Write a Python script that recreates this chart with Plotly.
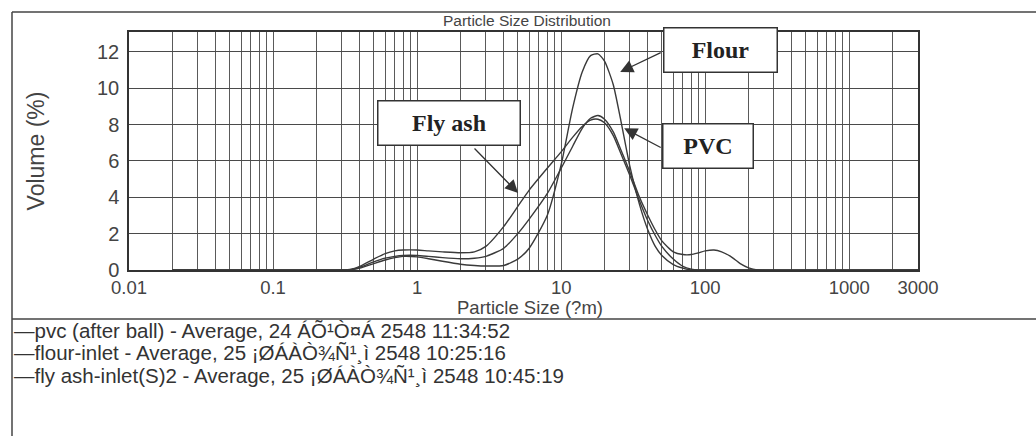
import math
import plotly.graph_objects as go

# Particle sizes (µm) at which the volume fractions are sampled
size_um = [0.02, 0.3, 0.35, 0.4, 0.5, 0.6, 0.7, 0.8, 1.0, 1.2, 1.5, 2.0, 2.5, 3.0,
           4.0, 5.0, 6.0, 8.0, 10, 12, 14, 16, 18, 20, 23, 26, 30, 35, 40, 45, 50,
           60, 70, 80, 90, 100, 115, 130, 150, 175, 200, 230, 3000]

# Volume (%) for each sample
pvc = [0, 0, 0.03, 0.15, 0.45, 0.65, 0.75, 0.8, 0.8, 0.75, 0.68, 0.62, 0.65, 0.75,
       1.2, 2.0, 2.8, 4.2, 5.6, 6.8, 7.8, 8.35, 8.5, 8.3, 7.6, 6.6, 5.4, 4.0, 3.0, 2.2, 1.6,
       1.0, 0.85, 0.85, 0.95, 1.05, 1.1, 1.0, 0.75, 0.35, 0.12, 0, 0]
flour = [0, 0, 0.02, 0.1, 0.35, 0.55, 0.68, 0.75, 0.72, 0.62, 0.48, 0.32, 0.25, 0.22,
         0.25, 0.6, 1.2, 3.0, 5.8, 8.9, 10.9, 11.8, 11.9, 11.5, 10.2, 8.2, 5.7, 3.6, 2.2, 1.3, 0.8,
         0.3, 0.1, 0, 0, 0, 0, 0, 0, 0, 0, 0, 0]
fly_ash = [0, 0, 0.05, 0.2, 0.6, 0.9, 1.05, 1.1, 1.1, 1.05, 1.0, 0.95, 1.0, 1.3,
           2.4, 3.5, 4.4, 5.6, 6.5, 7.3, 7.9, 8.25, 8.3, 8.1, 7.4, 6.4, 5.2, 3.8, 2.7, 1.9, 1.3,
           0.6, 0.2, 0.05, 0, 0, 0, 0, 0, 0, 0, 0, 0]

series_names = ["pvc (after ball)", "flour-inlet", "fly ash-inlet(S)2"]
legend_lines = [
    "pvc (after ball) - Average, 24 ÁÕ¹Ò¤Á 2548 11:34:52",
    "flour-inlet - Average, 25 ¡ØÁÀÒ¾Ñ¹¸ì 2548 10:25:16",
    "fly ash-inlet(S)2 - Average, 25 ¡ØÁÀÒ¾Ñ¹¸ì 2548 10:45:19",
]

# Grid lines at every 1..9 multiple of each decade; labels only on some
grid_vals = [m * 10 ** e for e in range(-2, 4) for m in range(1, 10) if m * 10 ** e <= 3000]
labelled_ticks = {0.01: "0.01", 0.1: "0.1", 1: "1", 10: "10", 100: "100", 1000: "1000", 3000: "3000"}
y_ticks = [0, 2, 4, 6, 8, 10, 12]

W, H = 1036, 436
L, R, T, B = 129, 918, 32, 270


def px(x):
    return (x - L) / (R - L)


def py(y):
    return (B - y) / (B - T)


SANS = "Liberation Sans, Arial, sans-serif"
SERIF = "Liberation Serif, Times New Roman, serif"
LINE = "#3a3a3a"

fig = go.Figure()
for name, vals in zip(series_names, [pvc, flour, fly_ash]):
    fig.add_trace(go.Scatter(x=size_um, y=vals, name=name, mode="lines",
                             line=dict(color=LINE, width=1.4, shape="spline", smoothing=0.6),
                             showlegend=False))

fig.update_layout(
    width=W, height=H,
    margin=dict(l=L, r=W - R, t=T, b=H - B),
    paper_bgcolor="white", plot_bgcolor="white",
    font=dict(family=SANS, color="#444"),
    xaxis=dict(type="log", range=[-2, 3.4771],
               tickvals=grid_vals,
               ticktext=[labelled_ticks.get(v, "") for v in grid_vals],
               tickfont=dict(size=18.5, family=SANS, color="#444"),
               ticks="", ticklabelstandoff=0, showgrid=True, gridcolor="#5a5a5a", gridwidth=1,
               showline=True, linecolor="#333", linewidth=1.5, mirror=True,
               zeroline=False),
    yaxis=dict(range=[0, 13.1], tickvals=y_ticks,
               tickfont=dict(size=20, family=SANS, color="#444"),
               ticks="", ticklabelstandoff=4, showgrid=True, gridcolor="#4a4a4a", gridwidth=1.2,
               showline=True, linecolor="#333", linewidth=1.5, mirror=True,
               zeroline=False,
               title=dict(text="Volume (%)", font=dict(size=23, family=SANS, color="#444"),
                          standoff=46)),
)

# Chart title and x-axis title
fig.add_annotation(text="Particle Size Distribution", xref="paper", yref="paper",
                   x=px(527), y=py(21), xanchor="center", yanchor="middle", showarrow=False,
                   font=dict(size=15.5, family=SANS, color="#444"))
fig.add_annotation(text="Particle Size (?m)", xref="paper", yref="paper",
                   x=px(530), y=py(308), xanchor="center", yanchor="middle", showarrow=False,
                   borderpad=0, font=dict(size=18.5, family=SANS, color="#444"))

# Labelled boxes with arrows pointing at each curve
boxes = [
    ("Fly ash", 1.67, 8.09, 141, 43),
    ("Flour", 127, 12.1, 112, 43),
    ("PVC", 105, 6.82, 89, 43),
]
for text, bx, by, bw, bh in boxes:
    fig.add_annotation(text=f"<b>{text}</b>", x=math.log10(bx), y=by,
                       xref="x", yref="y", showarrow=False,
                       width=bw, height=bh, bgcolor="white",
                       bordercolor="#333", borderwidth=1.5, borderpad=0,
                       font=dict(size=24, family=SERIF, color="#222"))

arrows = [
    (5.02, 4.24, -45, -46),
    (25.7, 10.9, 42, -20),
    (27.4, 7.8, 38, 20),
]
for hx, hy, ax, ay in arrows:
    fig.add_annotation(text="", x=math.log10(hx), y=hy, xref="x", yref="y",
                       showarrow=True, ax=ax, ay=ay, arrowhead=2, arrowsize=2,
                       arrowwidth=1.3, arrowcolor="#333")

# Frame around the chart and legend panel
frame = dict(color="#444", width=1.5)
fig.add_shape(type="line", xref="paper", yref="paper", x0=px(12), x1=px(W + 5), y0=py(12), y1=py(12), line=frame)
fig.add_shape(type="line", xref="paper", yref="paper", x0=px(12), x1=px(12), y0=py(12), y1=py(H + 5), line=frame)
fig.add_shape(type="line", xref="paper", yref="paper", x0=px(12), x1=px(W + 5), y0=py(319), y1=py(319), line=frame)

# Legend entries
for i, line in enumerate(legend_lines):
    fig.add_annotation(text="—" + line, xref="paper", yref="paper",
                       x=px(12), y=py(330 + 22.5 * i), xanchor="left", yanchor="middle",
                       showarrow=False, font=dict(size=20.5, family=SANS, color="#333"))

fig.write_html("out.html")
